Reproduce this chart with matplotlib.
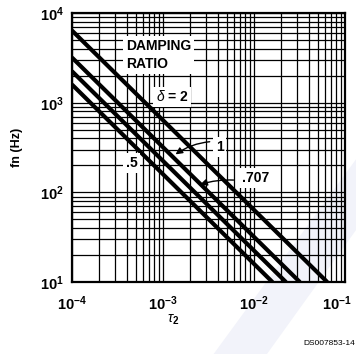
import matplotlib
matplotlib.use('Agg')
import matplotlib.pyplot as plt
from matplotlib.patches import Polygon
from matplotlib.ticker import LogLocator, NullFormatter
from matplotlib.transforms import ScaledTranslation

plt.rcParams['font.family'] = ['Liberation Sans', 'DejaVu Sans']
plt.rcParams['mathtext.fontset'] = 'custom'
plt.rcParams['mathtext.rm'] = 'Liberation Sans:bold'
plt.rcParams['mathtext.it'] = 'Liberation Sans:italic'
plt.rcParams['mathtext.bf'] = 'Liberation Sans:bold'

# damping ratio lines, read as end points (tau2, fn) on the chart
damping = ['.5', '.707', '1', '2']
tau_start = [1e-4, 1e-4, 1e-4, 1e-4]
fn_start = [1600, 2250, 3200, 6400]
tau_end = [0.016, 0.0225, 0.032, 0.064]
fn_end = [10, 10, 10, 10]

x_ticks = [1e-4, 1e-3, 1e-2, 1e-1]
x_labels = [r'$10^{-4}$', r'$10^{-3}$', r'$10^{-2}$', r'$10^{-1}$']
y_ticks = [1e1, 1e2, 1e3, 1e4]
y_labels = [r'$10^{1}$', r'$10^{2}$', r'$10^{3}$', r'$10^{4}$']

fig = plt.figure(figsize=(3.56, 3.54), dpi=100)

# faint scan watermark in the lower right
fig.patches.append(Polygon([(0.60, 0.0), (0.75, 0.0), (1.0, 0.35), (1.0, 0.55)],
                           closed=True, transform=fig.transFigure,
                           facecolor='#f2f3fa', edgecolor='none', zorder=-1))

ax = fig.add_axes([0.202, 0.203, 0.767, 0.760])
ax.set_zorder(1)
ax.set_facecolor('none')
ax.set_xscale('log')
ax.set_yscale('log')
ax.set_xlim(1e-4, 1e-1)
ax.set_ylim(1e1, 1e4)

ax.xaxis.set_minor_locator(LogLocator(base=10, subs=range(2, 10)))
ax.yaxis.set_minor_locator(LogLocator(base=10, subs=range(2, 10)))
ax.xaxis.set_minor_formatter(NullFormatter())
ax.yaxis.set_minor_formatter(NullFormatter())
ax.grid(which='both', color='black', linewidth=0.9)
ax.set_axisbelow(True)
ax.tick_params(which='both', length=0)
ax.tick_params(axis='x', pad=9)
ax.tick_params(axis='y', pad=6)
for s in ax.spines.values():
    s.set_linewidth(1.6)

ax.set_xticks(x_ticks)
ax.set_xticklabels(x_labels, fontsize=10.5)
ax.set_yticks(y_ticks)
ax.set_yticklabels(y_labels, fontsize=10.5)
last = ax.get_xticklabels()[-1]
last.set_transform(last.get_transform() + ScaledTranslation(-8 / 100, 0, fig.dpi_scale_trans))

for i in range(len(damping)):
    ax.plot([tau_start[i], tau_end[i]], [fn_start[i], fn_end[i]],
            color='black', linewidth=3.0, solid_capstyle='butt', zorder=3)

box = dict(facecolor='white', edgecolor='none', pad=2)
ax.text(3.9e-4, 3400, 'DAMPING\nRATIO', fontsize=10, fontweight='bold',
        ha='left', va='center', linespacing=1.35, bbox=box, zorder=4)
ax.text(8.4e-4, 1160, r'$\delta$ = 2', fontsize=10, fontweight='bold',
        ha='left', va='center', bbox=box, zorder=4)
ax.text(3.8e-3, 320, '1', fontsize=10, fontweight='bold',
        ha='left', va='center', bbox=box, zorder=4)
ax.annotate('', xy=(1.3e-3, 255), xytext=(3.5e-3, 370),
            arrowprops=dict(arrowstyle='-|>', color='black', lw=1,
                            connectionstyle='arc3,rad=0.15'), zorder=4)
ax.text(7.4e-3, 145, '.707', fontsize=10, fontweight='bold',
        ha='left', va='center', bbox=box, zorder=4)
ax.annotate('', xy=(2.4e-3, 120), xytext=(6.4e-3, 137),
            arrowprops=dict(arrowstyle='-|>', color='black', lw=1,
                            connectionstyle='arc3,rad=0.1'), zorder=4)
ax.text(3.9e-4, 213, '.5', fontsize=10, fontweight='bold',
        ha='left', va='center', bbox=box, zorder=4)

ax.set_xlabel(r'$\tau_2$', fontsize=10)
ax.xaxis.set_label_coords(0.37, -0.115)
ax.set_ylabel('fn (Hz)', fontsize=9, fontweight='bold', labelpad=12)
fig.text(0.997, 0.02, 'DS007853-14', fontsize=6, ha='right', va='bottom')

fig.savefig('out.png', dpi=100)
